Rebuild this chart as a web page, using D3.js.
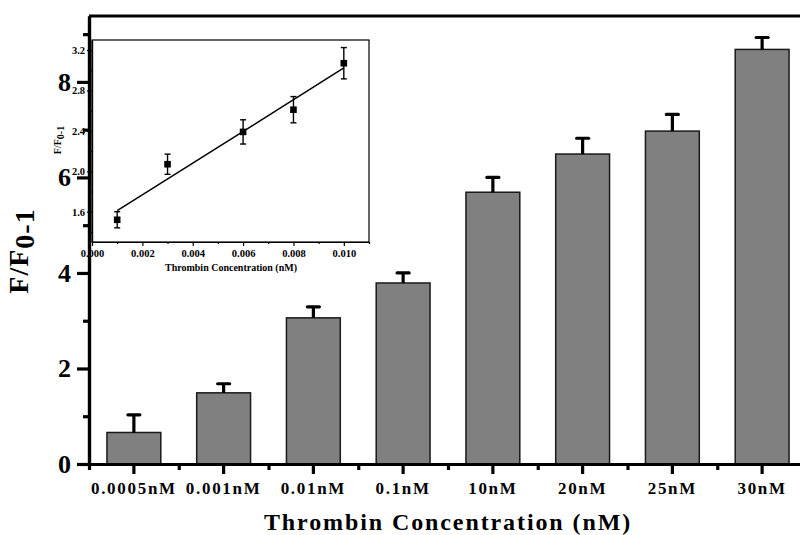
<!DOCTYPE html>
<html>
<head>
<meta charset="utf-8">
<script src="https://cdn.jsdelivr.net/npm/d3@7/dist/d3.min.js"></script>
<style>
  body { margin: 0; background: #fff; }
  svg { display: block; font-family: "Liberation Serif", "Times New Roman", serif; font-weight: bold; }
</style>
</head>
<body>
<svg id="chart"></svg>
<script>
// main bar chart data
var categories = ['0.0005nM', '0.001nM', '0.01nM', '0.1nM', '10nM', '20nM', '25nM', '30nM'];
var values = [0.66, 1.49, 3.06, 3.79, 5.69, 6.49, 6.97, 8.68];
var errors = [0.37, 0.19, 0.23, 0.21, 0.31, 0.33, 0.35, 0.25];
var yMajorTicks = [0, 2, 4, 6, 8];
var yMinorTicks = [1, 3, 5, 7, 9];

// inset (linear range) data
var insetX = [0.001, 0.003, 0.006, 0.008, 0.010];
var insetY = [1.52, 2.07, 2.39, 2.61, 3.07];
var insetErr = [0.08, 0.10, 0.12, 0.13, 0.155];
var insetXTicks = [0, 0.002, 0.004, 0.006, 0.008, 0.010];
var insetXMinor = [0.001, 0.003, 0.005, 0.007, 0.009, 0.011];
var insetYTicks = [1.6, 2.0, 2.4, 2.8, 3.2];
var insetYMinor = [1.4, 1.8, 2.2, 2.6, 3.0];

var canvasWidth = 800;
var canvasHeight = 535;
var plotLeft = 89, plotRight = 807, plotTop = 16, plotBottom = 464;

var svg = d3.select('#chart')
  .attr('width', canvasWidth)
  .attr('height', canvasHeight);

var xScale = d3.scaleBand()
  .domain(categories)
  .range([plotLeft, plotRight])
  .paddingInner(0.4)
  .paddingOuter(0.2);
// boundaries between categories, for the small ticks
var xEdge = d3.scaleLinear().domain([0, categories.length]).range([plotLeft, plotRight]);
var yScale = d3.scaleLinear().domain([0, 9.38]).range([plotBottom, plotTop]);

// bars
svg.selectAll('.bar')
  .data(values)
  .enter().append('rect')
  .attr('class', 'bar')
  .attr('x', function(d, i) { return xScale(categories[i]); })
  .attr('y', function(d) { return yScale(d); })
  .attr('width', xScale.bandwidth())
  .attr('height', function(d) { return yScale(0) - yScale(d); })
  .attr('fill', '#808080')
  .attr('stroke', '#1a1a1a')
  .attr('stroke-width', 1.5);

// error bars (upper half only)
var errG = svg.selectAll('.err')
  .data(values)
  .enter().append('g')
  .attr('class', 'err')
  .attr('stroke', '#000')
  .attr('stroke-width', 3.2);
errG.append('line')
  .attr('x1', function(d, i) { return xScale(categories[i]) + xScale.bandwidth() / 2; })
  .attr('x2', function(d, i) { return xScale(categories[i]) + xScale.bandwidth() / 2; })
  .attr('y1', function(d) { return yScale(d); })
  .attr('y2', function(d, i) { return yScale(d + errors[i]); });
errG.append('line')
  .attr('stroke-linecap', 'round')
  .attr('x1', function(d, i) { return xScale(categories[i]) + xScale.bandwidth() / 2 - 6; })
  .attr('x2', function(d, i) { return xScale(categories[i]) + xScale.bandwidth() / 2 + 6; })
  .attr('y1', function(d, i) { return yScale(d + errors[i]); })
  .attr('y2', function(d, i) { return yScale(d + errors[i]); });

// top frame line
svg.append('line')
  .attr('x1', plotLeft).attr('x2', plotRight)
  .attr('y1', plotTop).attr('y2', plotTop)
  .attr('stroke', '#000').attr('stroke-width', 3);

// Y axis
var yAxisG = svg.append('g')
  .attr('transform', 'translate(' + plotLeft + ',0)')
  .call(d3.axisLeft(yScale).tickValues(yMajorTicks).tickSize(12).tickSizeOuter(0).tickPadding(6));
svg.append('g')
  .attr('transform', 'translate(' + plotLeft + ',0)')
  .call(d3.axisLeft(yScale).tickValues(yMinorTicks).tickSize(6).tickSizeOuter(0).tickFormat(''));

// X axis
var xAxisG = svg.append('g')
  .attr('transform', 'translate(0,' + plotBottom + ')')
  .call(d3.axisBottom(xScale).tickSize(10).tickSizeOuter(0).tickPadding(8));
svg.append('g')
  .attr('transform', 'translate(0,' + plotBottom + ')')
  .call(d3.axisBottom(xEdge).tickValues(d3.range(0, categories.length + 1)).tickSize(6).tickSizeOuter(0).tickFormat(''));

svg.selectAll('.domain').attr('stroke-width', 3.2);
svg.selectAll('.tick line').attr('stroke-width', 3.2);

yAxisG.selectAll('text')
  .attr('font-family', '"Liberation Serif", serif')
  .attr('font-weight', 'bold')
  .attr('font-size', 26);
xAxisG.selectAll('text')
  .attr('font-family', '"Liberation Serif", serif')
  .attr('font-weight', 'bold')
  .attr('font-size', 17)
  .attr('letter-spacing', '1.7px');

// axis titles
svg.append('text')
  .attr('x', 448)
  .attr('y', 530)
  .attr('text-anchor', 'middle')
  .attr('font-size', 24)
  .attr('letter-spacing', '1.9px')
  .text('Thrombin Concentration (nM)');

var yTitle = svg.append('text')
  .attr('transform', 'translate(28,251) rotate(-90)')
  .attr('text-anchor', 'middle')
  .attr('font-size', 28)
  .attr('letter-spacing', '1px');
yTitle.append('tspan').text('F/F');
yTitle.append('tspan').attr('dy', 6).text('0-1');

// ---- Inset ----
var iLeft = 92, iRight = 369, iTop = 40, iBottom = 242;
var ix = d3.scaleLinear().domain([0, 0.011]).range([iLeft, iRight]);
var iy = d3.scaleLinear().domain([1.3, 3.3]).range([iBottom, iTop]);
var inset = svg.append('g').attr('class', 'inset');

inset.append('rect')
  .attr('x', iLeft).attr('y', iTop)
  .attr('width', iRight - iLeft).attr('height', iBottom - iTop)
  .attr('fill', '#fff')
  .attr('stroke', '#000')
  .attr('stroke-width', 1.2);

inset.append('g')
  .attr('transform', 'translate(0,' + iBottom + ')')
  .call(d3.axisBottom(ix).tickValues(insetXTicks).tickSize(4).tickSizeOuter(0).tickPadding(3.5).tickFormat(d3.format('.3f')));
inset.append('g')
  .attr('transform', 'translate(0,' + iBottom + ')')
  .call(d3.axisBottom(ix).tickValues(insetXMinor).tickSize(2).tickSizeOuter(0).tickFormat(''));
inset.append('g')
  .attr('transform', 'translate(' + iLeft + ',0)')
  .call(d3.axisLeft(iy).tickValues(insetYTicks).tickSize(5).tickSizeOuter(0).tickPadding(2).tickFormat(d3.format('.1f')));
inset.append('g')
  .attr('transform', 'translate(' + iLeft + ',0)')
  .call(d3.axisLeft(iy).tickValues(insetYMinor).tickSize(3).tickSizeOuter(0).tickFormat(''));
inset.selectAll('.domain').attr('stroke-width', 1.2);
inset.selectAll('.tick line').attr('stroke-width', 1.2);
inset.selectAll('text')
  .attr('font-family', '"Liberation Serif", serif')
  .attr('font-weight', 'bold')
  .attr('font-size', 10.5);

// least squares line through the inset points
var mx = d3.mean(insetX), my = d3.mean(insetY);
var sxy = d3.sum(insetX, function(d, i) { return (d - mx) * (insetY[i] - my); });
var sxx = d3.sum(insetX, function(d) { return (d - mx) * (d - mx); });
var slope = sxy / sxx;
var intercept = my - slope * mx;
var fitX = d3.extent(insetX);
inset.append('line')
  .attr('x1', ix(fitX[0])).attr('y1', iy(intercept + slope * fitX[0]))
  .attr('x2', ix(fitX[1])).attr('y2', iy(intercept + slope * fitX[1]))
  .attr('stroke', '#000')
  .attr('stroke-width', 1.5);

// inset error bars and points
var ie = inset.selectAll('.ierr')
  .data(insetY)
  .enter().append('g')
  .attr('class', 'ierr')
  .attr('stroke', '#000')
  .attr('stroke-width', 1.4);
ie.append('line')
  .attr('x1', function(d, i) { return ix(insetX[i]); })
  .attr('x2', function(d, i) { return ix(insetX[i]); })
  .attr('y1', function(d, i) { return iy(d - insetErr[i]); })
  .attr('y2', function(d, i) { return iy(d + insetErr[i]); });
[-1, 1].forEach(function(s) {
  ie.append('line')
    .attr('x1', function(d, i) { return ix(insetX[i]) - 3; })
    .attr('x2', function(d, i) { return ix(insetX[i]) + 3; })
    .attr('y1', function(d, i) { return iy(d + s * insetErr[i]); })
    .attr('y2', function(d, i) { return iy(d + s * insetErr[i]); });
});
inset.selectAll('.ipt')
  .data(insetY)
  .enter().append('rect')
  .attr('class', 'ipt')
  .attr('x', function(d, i) { return ix(insetX[i]) - 3.3; })
  .attr('y', function(d) { return iy(d) - 3.3; })
  .attr('width', 6.6)
  .attr('height', 6.6)
  .attr('fill', '#000');

// inset titles
inset.append('text')
  .attr('x', 231)
  .attr('y', 271)
  .attr('text-anchor', 'middle')
  .attr('font-size', 10)
  .text('Thrombin Concentration (nM)');
var iyTitle = inset.append('text')
  .attr('transform', 'translate(61,140) rotate(-90)')
  .attr('text-anchor', 'middle')
  .attr('font-size', 10);
iyTitle.append('tspan').text('F/F');
iyTitle.append('tspan').attr('dy', 3).text('0-1');

// keep the main y axis line above the inset frame
yAxisG.raise();
</script>
</body>
</html>
